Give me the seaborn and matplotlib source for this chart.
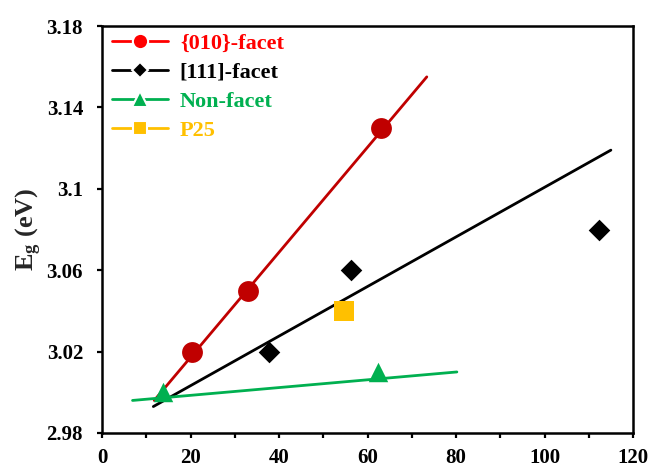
import numpy as np
import pandas as pd
import matplotlib
matplotlib.use("Agg")
import matplotlib.pyplot as plt
from matplotlib.lines import Line2D
from matplotlib.ticker import MultipleLocator
import seaborn as sns

# ---- data ----
x_010 = [20.3, 33.1, 63.0]
y_010 = [3.02, 3.05, 3.13]
x_111 = [37.8, 56.2, 112.4]
y_111 = [3.02, 3.06, 3.08]
x_non = [13.8, 62.4]
y_non = [3.00, 3.01]
x_p25 = [54.7]
y_p25 = [3.04]

# trend lines (end points)
tx_010 = [11.8, 73.4]
ty_010 = [2.996, 3.155]
tx_111 = [11.6, 115.0]
ty_111 = [2.993, 3.119]
tx_non = [6.9, 80.2]
ty_non = [2.996, 3.010]

series_names = ["{010}-facet", "[111]-facet", "Non-facet", "P25"]
xticks = [0, 20, 40, 60, 80, 100, 120]
yticks = [2.98, 3.02, 3.06, 3.1, 3.14, 3.18]
ytick_labels = ["2.98", "3.02", "3.06", "3.1", "3.14", "3.18"]

# ---- style ----
sns.set_style("white")
plt.rcParams["font.family"] = ["Liberation Serif", "DejaVu Serif"]
plt.rcParams["font.weight"] = "bold"
plt.rcParams["mathtext.fontset"] = "custom"
plt.rcParams["mathtext.rm"] = "Liberation Serif:bold"
plt.rcParams["mathtext.bf"] = "Liberation Serif:bold"
plt.rcParams["mathtext.it"] = "Liberation Serif:bold"

dark_red = "#C00000"
red = "#FF0000"
black = "#000000"
green = "#00B050"
yellow = "#FFC000"

fig = plt.figure(figsize=(6.51, 4.67), dpi=100)
ax = fig.add_axes([102 / 651, 1 - 433 / 467, (633 - 102) / 651, (433 - 26) / 467])

# trend lines
sns.lineplot(x=tx_010, y=ty_010, ax=ax, color=dark_red, lw=2.0, zorder=2)
sns.lineplot(x=tx_111, y=ty_111, ax=ax, color=black, lw=2.0, zorder=2)
sns.lineplot(x=tx_non, y=ty_non, ax=ax, color=green, lw=2.0, zorder=2)

# points
sns.scatterplot(x=x_010, y=y_010, ax=ax, marker="o", s=15 ** 2, color=dark_red,
                edgecolor=dark_red, linewidth=0, zorder=3)
sns.scatterplot(x=x_111, y=y_111, ax=ax, marker="D", s=11 ** 2, color=black,
                edgecolor=black, linewidth=0, zorder=3)
sns.scatterplot(x=x_non, y=y_non, ax=ax, marker="^", s=14 ** 2, color=green,
                edgecolor=green, linewidth=0, zorder=3)
sns.scatterplot(x=x_p25, y=y_p25, ax=ax, marker="s", s=14 ** 2, color=yellow,
                edgecolor=yellow, linewidth=0, zorder=3)

ax.set_xlim(0, 120)
ax.set_ylim(2.98, 3.18)
ax.set_xticks(xticks)
ax.set_xticklabels([str(v) for v in xticks], fontsize=15, fontweight="bold")
ax.xaxis.set_minor_locator(MultipleLocator(10))
ax.set_yticks(yticks)
ax.set_yticklabels(ytick_labels, fontsize=15, fontweight="bold")
ax.tick_params(axis="both", which="both", direction="out", length=3.6, width=1.6,
               colors="black", bottom=True, left=True, top=False, right=False)
ax.tick_params(axis="x", which="both", pad=7)
ax.tick_params(axis="y", pad=10)
for sp in ax.spines.values():
    sp.set_color("black")
    sp.set_linewidth(1.8)

ax.set_xlabel("")
ax.set_ylabel(r"E$_\mathrm{g}$ (eV)", fontsize=19, fontweight="bold", labelpad=2)

handles = [
    Line2D([], [], color=red, marker="o", markersize=11, lw=2, markeredgewidth=1.5,
           markeredgecolor="white", markerfacecolor=red),
    Line2D([], [], color=black, marker="D", markersize=8, lw=2, markeredgewidth=1.5,
           markeredgecolor="white", markerfacecolor=black),
    Line2D([], [], color=green, marker="^", markersize=11, lw=2, markeredgewidth=1.5,
           markeredgecolor="white", markerfacecolor=green),
    Line2D([], [], color=yellow, marker="s", markersize=10, lw=2, markeredgewidth=1.5,
           markeredgecolor="white", markerfacecolor=yellow),
]
leg = ax.legend(handles, series_names, loc="upper left", bbox_to_anchor=(0.019, 0.982),
                frameon=False, fontsize=16, handlelength=2.5, handletextpad=0.55,
                labelspacing=0.38, borderaxespad=0.0, borderpad=0.0)
for txt, c in zip(leg.get_texts(), [red, black, green, yellow]):
    txt.set_color(c)
    txt.set_fontweight("bold")

fig.savefig("out.png", dpi=100)
